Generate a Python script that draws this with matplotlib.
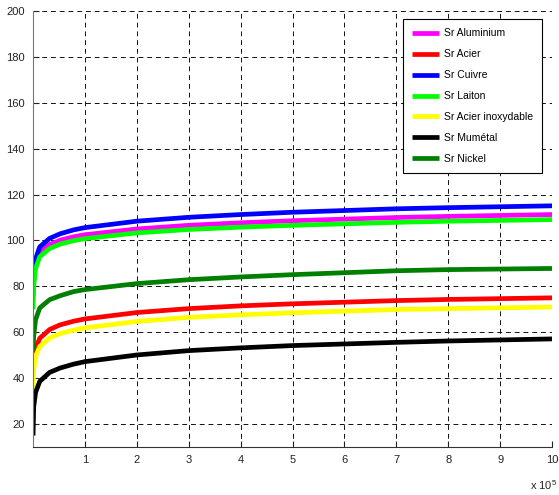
import matplotlib
matplotlib.use('Agg')
import matplotlib.pyplot as plt

plt.rcParams['font.family'] = ['Liberation Sans Narrow', 'Liberation Sans', 'DejaVu Sans']
plt.rcParams['mathtext.default'] = 'regular'

# frequency axis (x 10^5)
x = [0.001, 0.013, 0.05, 0.13, 0.32, 0.52, 0.78, 1, 2, 3, 4, 5, 7, 8, 10]

# values
sr_aluminium = [76, 83.0, 89.8, 94.8, 98.2, 100.1, 101.6, 102.5, 105.0, 106.6, 107.7, 108.6, 110.0, 110.5, 111.3]
sr_acier = [42, 46.5, 52.8, 57.4, 61.2, 63.2, 64.8, 65.8, 68.6, 70.3, 71.5, 72.4, 73.8, 74.3, 75.0]
sr_cuivre = [78, 85.5, 92.0, 97.2, 100.9, 102.9, 104.6, 105.6, 108.4, 110.1, 111.3, 112.3, 113.8, 114.3, 115.1]
sr_laiton = [70, 80.0, 87.8, 92.9, 96.5, 98.4, 99.9, 100.8, 103.3, 104.8, 105.8, 106.6, 107.9, 108.4, 109.1]
sr_inox = [32, 43.5, 49.6, 53.8, 57.5, 59.4, 60.9, 61.9, 64.7, 66.5, 67.6, 68.5, 69.9, 70.3, 71.0]
sr_mumetal = [15, 27.5, 33.8, 38.6, 42.5, 44.4, 46.1, 47.2, 50.1, 52.0, 53.2, 54.2, 55.6, 56.2, 57.1]
sr_nickel = [52, 58.3, 65.5, 70.6, 74.2, 75.9, 77.7, 78.6, 81.2, 82.9, 84.1, 85.1, 86.8, 87.3, 87.8]

series = [
    ('Sr Aluminium', sr_aluminium, '#ff00ff'),
    ('Sr Acier', sr_acier, '#ff0000'),
    ('Sr Cuivre', sr_cuivre, '#0000ff'),
    ('Sr Laiton', sr_laiton, '#00ff00'),
    ('Sr Acier inoxydable', sr_inox, '#ffff00'),
    ('Sr Mumétal', sr_mumetal, '#000000'),
    ('Sr Nickel', sr_nickel, '#007f00'),
]

fig = plt.figure(figsize=(5.59, 4.95), dpi=100)
ax = fig.add_axes([33 / 559, 1 - 447 / 495, 519 / 559, 436 / 495])

for label, y, c in series:
    ax.plot(x, y, color=c, lw=3.4, label=label, solid_capstyle='butt',
            solid_joinstyle='round')

ax.set_xlim(0, 10)
ax.set_ylim(10, 200)
ax.set_xticks(range(1, 11))
ax.set_yticks(range(20, 201, 20))
ax.tick_params(direction='in', length=4, labelsize=8, colors='#222222', pad=6)
ax.grid(True, color='#111111', linestyle=(0, (5, 4)), lw=0.7)
for s in ['top', 'right']:
    ax.spines[s].set_visible(False)
ax.spines['left'].set_color('#777777')
ax.spines['bottom'].set_color('#333333')

leg = ax.legend(loc='upper right', bbox_to_anchor=(542 / 559, 1 - 19 / 495),
                bbox_transform=fig.transFigure, fontsize=7.5, frameon=True,
                fancybox=False, edgecolor='black', framealpha=1,
                handlelength=2.6, handletextpad=0.4, labelspacing=1.05,
                borderpad=0.9, borderaxespad=0)
leg.get_frame().set_linewidth(0.8)

fig.text(530 / 559, 1 - 490 / 495, r'x 10$^{5}$', fontsize=8, color='#222222')

fig.savefig('out.png', dpi=100)
